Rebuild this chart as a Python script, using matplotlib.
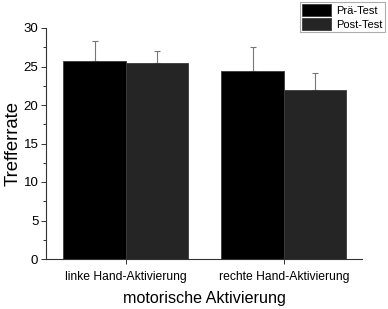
import matplotlib
matplotlib.use("Agg")
import matplotlib.pyplot as plt
import numpy as np
from matplotlib.ticker import MultipleLocator

plt.rcParams['font.family'] = ['Liberation Sans', 'DejaVu Sans']

categories = ["linke Hand-Aktivierung", "rechte Hand-Aktivierung"]
series_names = ["Prä-Test", "Post-Test"]
pre_mean = [25.7, 24.4]
pre_sd = [2.6, 3.1]
post_mean = [25.5, 22.0]
post_sd = [1.55, 2.1]
colors = ["#000000", "#252525"]

fig = plt.figure(figsize=(3.88, 3.09), dpi=100)
ax = fig.add_axes([46/388, 50/309, (362-46)/388, (259-28)/309])

x = np.arange(1, len(categories) + 1)
w = 0.395
for vals, sds, col, name, off in [(pre_mean, pre_sd, colors[0], series_names[0], -w/2),
                                  (post_mean, post_sd, colors[1], series_names[1], w/2)]:
    ax.bar(x + off, vals, width=w, color=col, edgecolor="#3a3a3a", linewidth=0.6,
           label=name, zorder=2)
    ax.errorbar(x + off, vals, yerr=[np.zeros(len(sds)), sds], fmt="none",
                ecolor="#777777", elinewidth=0.8, capsize=2.5, capthick=0.8, zorder=1)

ax.set_xlim(0.495, 2.495)
ax.set_ylim(0, 30)
ax.set_xticks(x)
ax.set_xticklabels(categories, fontsize=8.7)
ax.yaxis.set_major_locator(MultipleLocator(5))
ax.yaxis.set_minor_locator(MultipleLocator(2.5))
ax.tick_params(axis='y', labelsize=9.5, length=3.5, width=0.7, color="#333333", pad=2)
ax.tick_params(axis='y', which='minor', length=2, width=0.7, color="#333333")
ax.tick_params(axis='x', length=3.5, width=0.7, color="#333333", pad=5)
for s in ['top', 'right']:
    ax.spines[s].set_visible(False)
for s in ['left', 'bottom']:
    ax.spines[s].set_linewidth(0.8)
    ax.spines[s].set_color("#333333")

ax.set_ylabel("Trefferrate", fontsize=13.3, labelpad=1)
ax.set_xlabel("motorische Aktivierung", fontsize=11.6, labelpad=6)

leg = fig.legend(loc="upper right", bbox_to_anchor=(385/388, 1 - 2/309), fontsize=8,
                 frameon=True, fancybox=False, edgecolor="#999999",
                 handlelength=2.6, handleheight=1.3, borderpad=0.2, labelspacing=0.15,
                 handletextpad=0.5, borderaxespad=0)
leg.get_frame().set_linewidth(0.8)

fig.savefig("out.png", dpi=100)
